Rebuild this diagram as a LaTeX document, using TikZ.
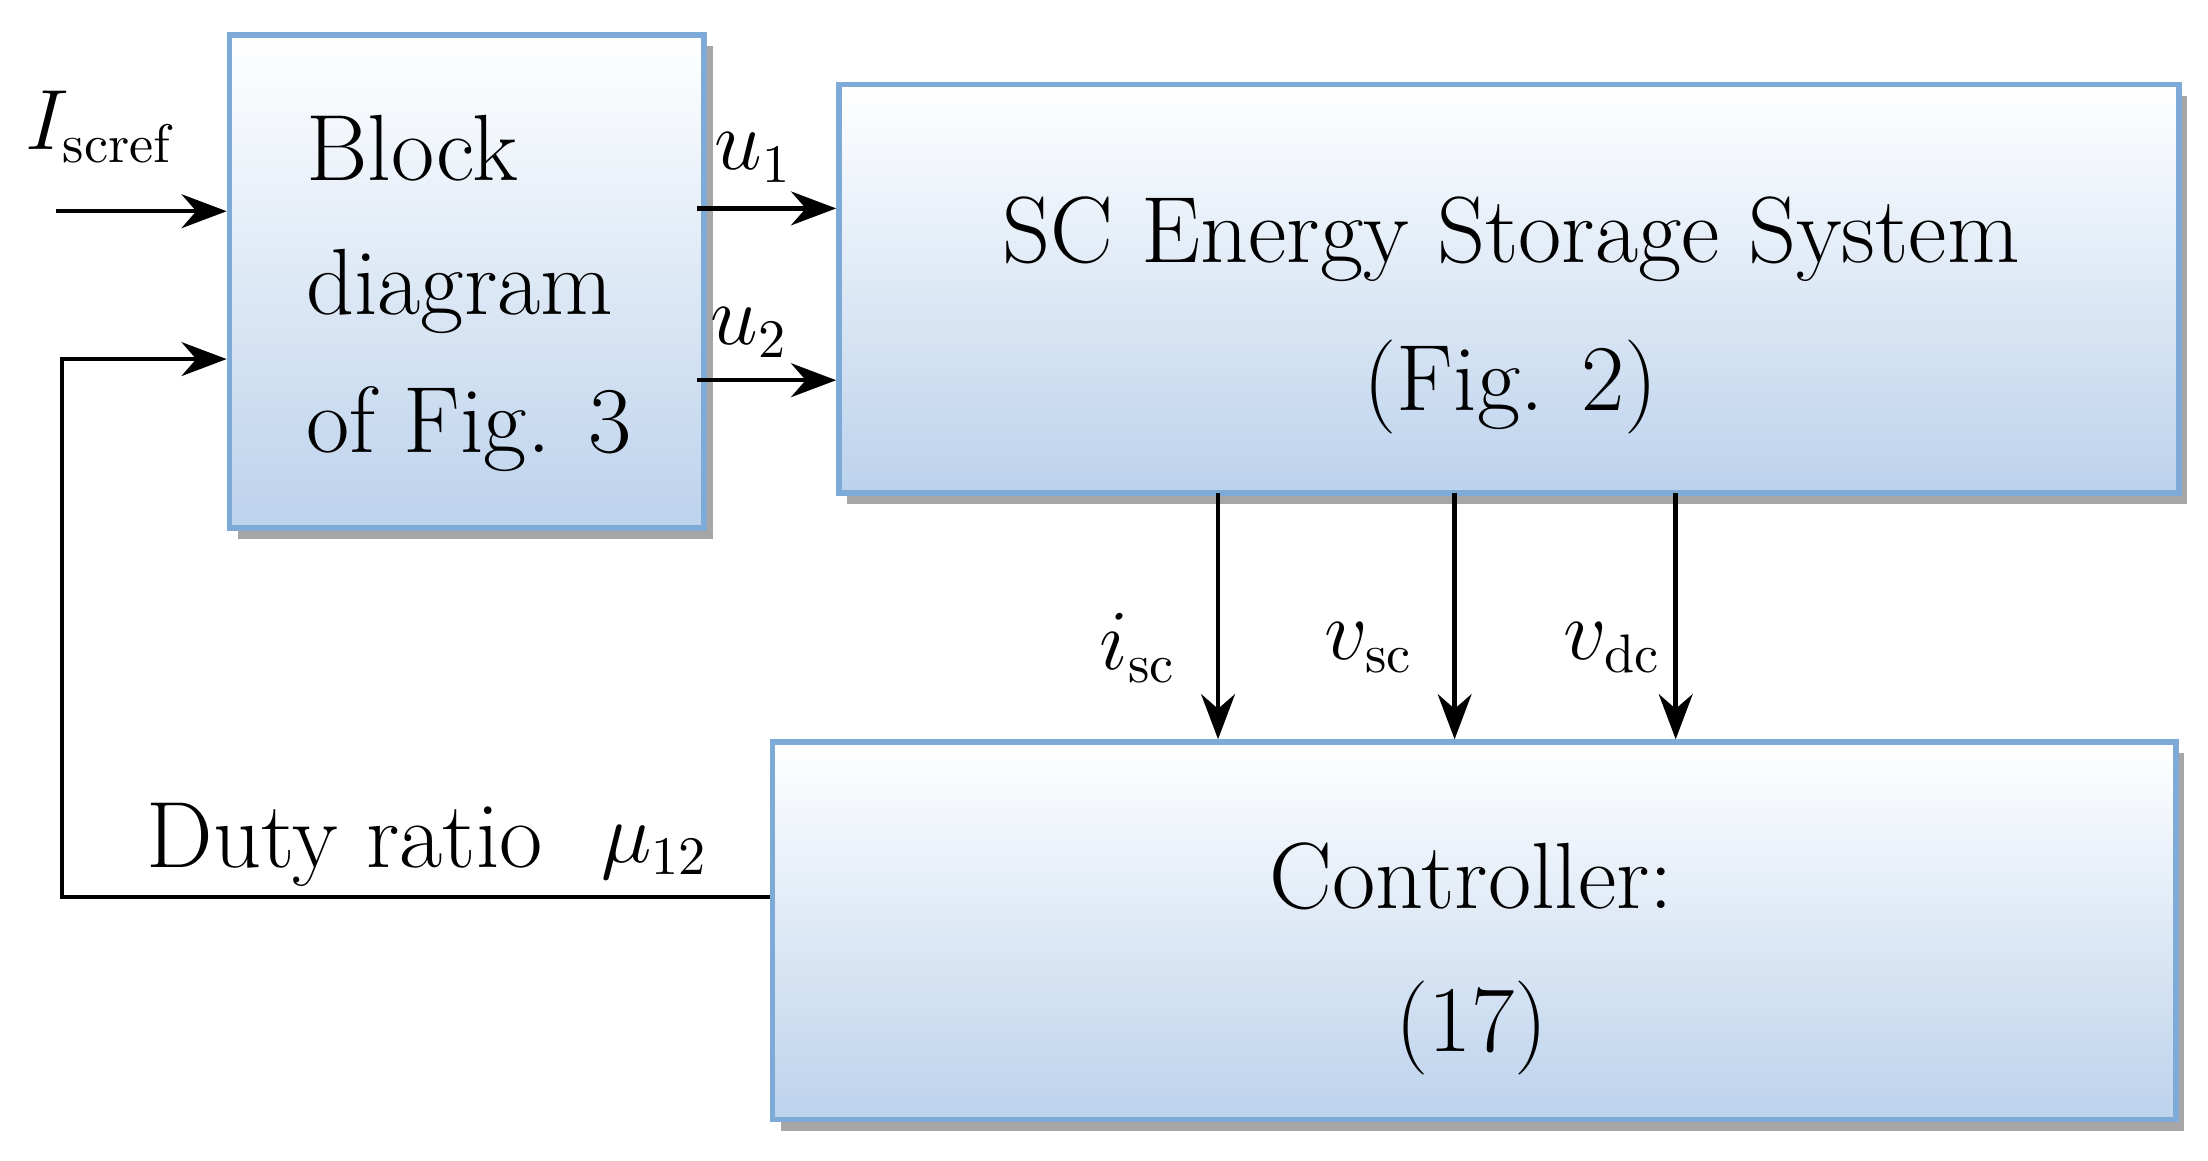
\documentclass[tikz,border=0pt]{standalone}
\usetikzlibrary{shadows,arrows.meta}
\definecolor{bordc}{RGB}{125,170,215}
\definecolor{botc}{RGB}{188,210,236}
\begin{document}
\begin{tikzpicture}[x={(0.01cm,0)},y={(0,-0.01cm)},
  box/.style={draw=bordc,line width=1.1pt,top color=white,bottom color=botc,
    drop shadow={shadow xshift=0.06cm,shadow yshift=-0.08cm,fill=gray!70,opacity=1},
    inner sep=0pt},
  big/.style={font=\fontsize{19}{23}\selectfont},
  lab/.style={font=\fontsize{16}{19}\selectfont},
  arr/.style={line width=0.9pt,-{Stealth[length=0.32cm,width=0.24cm]}},
  ln/.style={line width=0.9pt}]
\useasboundingbox (0,0) rectangle (1568,824);
\node[box,minimum width=3.37cm,minimum height=3.5cm] (blk) at (331.5,200) {};
\node[box,minimum width=9.51cm,minimum height=2.9cm] (sc) at (1071.5,205) {};
\node[box,minimum width=9.96cm,minimum height=2.68cm] (ctrl) at (1047,661) {};
\node[big,anchor=west] (t1) at (205,105) {Block};
\node[big,anchor=west] (t2) at (205,207) {diagram};
\node[big,anchor=west] (t3) at (205,305) {of Fig. 3};
\node[big] (t4) at (1073,170) {SC Energy Storage System};
\node[big] (t5) at (1073,275) {(Fig. 2)};
\node[big] (t6) at (1045,622) {Controller:};
\node[big] (t7) at (1045,730) {(17)};
\node[lab] (lI) at (72,90) {$I_{\mathrm{scref}}$};
\node[lab] (lu1) at (535,112) {$u_1$};
\node[lab] (lu2) at (532,236) {$u_2$};
\node[lab] (li) at (808,460) {$i_{\mathrm{sc}}$};
\node[lab] (lv) at (972,460) {$v_{\mathrm{sc}}$};
\node[lab] (lvd) at (1145,460) {$v_{\mathrm{dc}}$};
\node[big] (ld) at (245,600) {Duty ratio};
\node[lab] (lm) at (465,605) {$\mu_{12}$};
\coordinate (i0) at (40,150);
\draw[arr] (i0) -- (i0 -| blk.west);
\coordinate (u1s) at (495,148);
\coordinate (u2s) at (495,270);
\draw[arr] (u1s) -- (u1s -| sc.west);
\draw[arr] (u2s) -- (u2s -| sc.west);
\coordinate (d1) at (865,350);
\coordinate (d2) at (1033,350);
\coordinate (d3) at (1190,350);
\draw[arr] (d1) -- (d1 |- ctrl.north);
\draw[arr] (d2) -- (d2 |- ctrl.north);
\draw[arr] (d3) -- (d3 |- ctrl.north);
\coordinate (fb) at (44,637);
\coordinate (fbt) at (44,255);
\draw[arr] (fb -| ctrl.west) -- (fb) -- (fbt) -- (fbt -| blk.west);
\end{tikzpicture}
\end{document}
